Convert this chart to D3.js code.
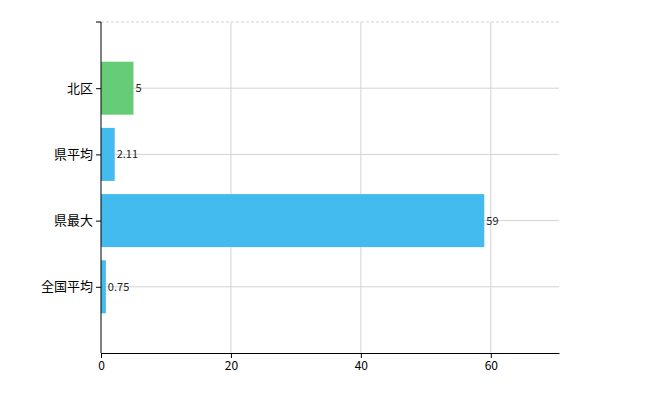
<!DOCTYPE html>
<html><head><meta charset="utf-8">
<script src="https://cdn.jsdelivr.net/npm/d3@7"></script>
<style>body{margin:0;background:#fff}text{font-family:"Noto Sans CJK JP",sans-serif}</style>
</head><body><svg id="c" width="650" height="400"></svg>
<script>
const categories=["北区","県平均","県最大","全国平均"];
const values=[5,2.11,59,0.75];
const colors=["#66cc77","#44bbee","#44bbee","#44bbee"];
const xTicks=[0,20,40,60];
const svg=d3.select("#c");
const L=101,R=559,T=22,B=353;
const x=d3.scaleLinear().domain([0,70.5]).range([L,R]);
const y=d3.scalePoint().domain(categories).range([T,B]).padding(1);
const bh=53;
const g=svg.append("g");
xTicks.forEach(t=>{ if(t>0) g.append("line").attr("x1",x(t)).attr("x2",x(t)).attr("y1",T).attr("y2",B).attr("stroke","#d3d3d3");});
g.append("line").attr("x1",L).attr("x2",R).attr("y1",T).attr("y2",T).attr("stroke","#d3d3d3").attr("stroke-dasharray","3,2");
categories.forEach(c=>g.append("line").attr("x1",L).attr("x2",R).attr("y1",y(c)).attr("y2",y(c)).attr("stroke","#d3d3d3"));
svg.selectAll(".bar").data(values).join("rect").attr("x",L).attr("y",(d,i)=>y(categories[i])-bh/2)
 .attr("width",d=>x(d)-L).attr("height",bh).attr("fill",(d,i)=>colors[i]);
svg.selectAll(".lbl").data(values).join("text").attr("x",d=>x(d)+2).attr("y",(d,i)=>y(categories[i])+4)
 .attr("font-size",11).attr("fill","#222").text(d=>d);
const ya=svg.append("g").attr("transform",`translate(${L},0)`).call(d3.axisLeft(y).tickSize(5).tickSizeOuter(0));
ya.select(".domain").attr("d",`M0,${T}V${B}`);
ya.append("line").attr("x1",-5).attr("x2",0).attr("y1",T).attr("y2",T).attr("stroke","#000");
ya.selectAll("text").attr("font-size",13).attr("fill","#000");
const xa=svg.append("g").attr("transform",`translate(0,${B})`).call(d3.axisBottom(x).tickValues(xTicks).tickSize(5).tickSizeOuter(0));
xa.selectAll("text").attr("font-size",12).attr("fill","#000");
</script></body></html>
